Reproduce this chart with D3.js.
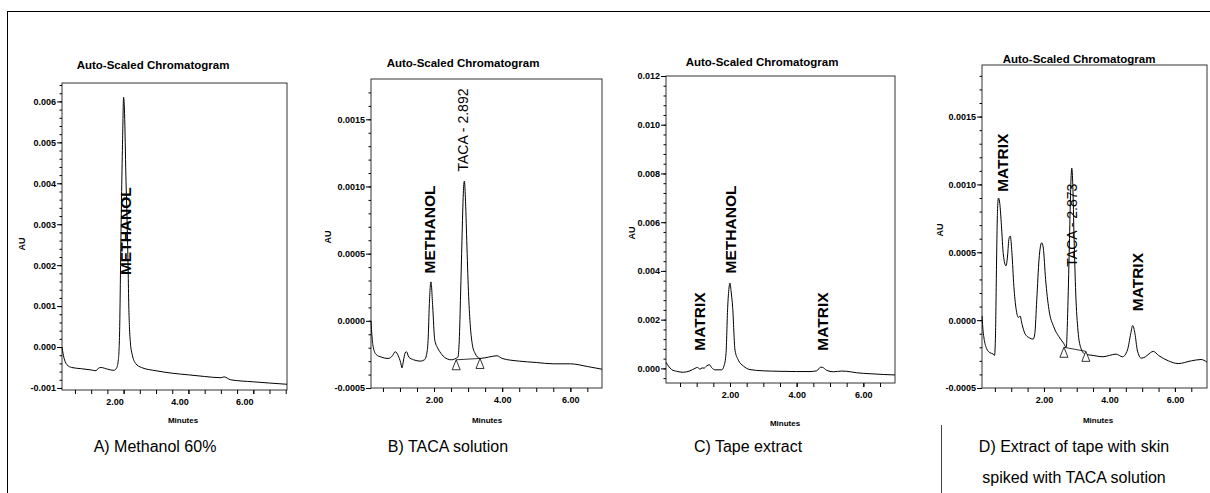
<!DOCTYPE html>
<html><head><meta charset="utf-8">
<script src="https://cdn.jsdelivr.net/npm/d3@7"></script>
<style>
body{margin:0;background:#fff}
svg{display:block}
text{font-family:"Liberation Sans",Arial,sans-serif;fill:#000}
</style>
</head><body>
<svg id="chart" width="1210" height="493"></svg>
<script>
// ---------------- DATA ----------------
const captions = ["A) Methanol 60%", "B) TACA solution", "C) Tape extract", "D) Extract of tape with skin|spiked with TACA solution"];
const chartTitle = "Auto-Scaled Chromatogram";
const xAxisTitle = "Minutes";
const yAxisTitle = "AU";
const xTicks = [2, 4, 6];

const yTicksA = [-0.001, 0, 0.001, 0.002, 0.003, 0.004, 0.005, 0.006];
const yTicksB = [-0.0005, 0, 0.0005, 0.0010, 0.0015];
const yTicksC = [0, 0.002, 0.004, 0.006, 0.008, 0.010, 0.012];
const yTicksD = [-0.0005, 0, 0.0005, 0.0010, 0.0015];

// [minutes, AU]
const traceA = [[0.10,0.0000],[0.13,-0.00015],[0.18,-0.00032],[0.25,-0.00043],[0.40,-0.0005],[0.70,-0.00053],[1.00,-0.00056],[1.15,-0.00058],[1.22,-0.00052],[1.30,-0.0005],[1.50,-0.00054],[1.70,-0.00057],[1.78,-0.00052],[1.84,-0.0003],[1.88,0.0005],[1.91,0.0022],[1.94,0.0038],[1.97,0.0051],[2.00,0.0061],[2.03,0.0057],[2.07,0.0042],[2.11,0.0030],[2.14,0.0019],[2.16,0.0010],[2.18,0.0005],[2.21,0.0001],[2.27,-0.0002],[2.37,-0.0004],[2.55,-0.0005],[3.0,-0.00058],[3.5,-0.00064],[4.0,-0.00068],[4.5,-0.00072],[5.0,-0.00075],[5.1,-0.00073],[5.3,-0.0008],[6.0,-0.00085],[6.5,-0.00088],[7.04,-0.00091]];

const traceB = [[0.15,0.0000],[0.18,-0.00012],[0.22,-0.0002],[0.30,-0.00025],[0.45,-0.00027],[0.65,-0.00028],[0.78,-0.00026],[0.86,-0.00023],[0.95,-0.00026],[1.02,-0.00031],[1.06,-0.00035],[1.10,-0.0003],[1.15,-0.00024],[1.19,-0.00023],[1.26,-0.00027],[1.40,-0.00029],[1.60,-0.0003],[1.72,-0.00029],[1.79,-0.00024],[1.83,-0.00012],[1.86,0.00011],[1.91,0.00029],[1.96,0.00011],[2.02,-0.00014],[2.10,-0.0002],[2.17,-0.00023],[2.30,-0.00027],[2.50,-0.00029],[2.70,-0.00027],[2.74,-0.00015],[2.78,0.0002],[2.82,0.0006],[2.86,0.00095],[2.89,0.00104],[2.92,0.00092],[2.96,0.0006],[3.01,0.00022],[3.06,-0.00002],[3.12,-0.00017],[3.20,-0.00024],[3.35,-0.00028],[3.60,-0.00027],[3.85,-0.00026],[4.0,-0.00028],[4.5,-0.0003],[5.0,-0.00031],[5.5,-0.00032],[6.0,-0.00032],[6.5,-0.00034],[6.93,-0.00036]];

const traceC = [[0.08,0.00025],[0.15,0.0001],[0.25,-0.00005],[0.40,-0.00012],[0.60,-0.00016],[0.80,-0.0001],[0.95,0.0],[1.02,0.00004],[1.10,-0.00003],[1.16,0.00002],[1.22,0.00001],[1.30,0.0001],[1.38,0.00015],[1.45,0.00003],[1.55,-0.00006],[1.75,-0.00006],[1.82,0.0001],[1.88,0.0006],[1.93,0.0025],[1.97,0.0033],[2.00,0.0035],[2.03,0.0032],[2.08,0.0025],[2.15,0.00075],[2.25,0.00034],[2.40,0.0001],[2.60,-0.00005],[3.0,-0.0001],[3.5,-0.00012],[4.0,-0.00013],[4.4,-0.00013],[4.6,-0.0001],[4.72,0.00005],[4.78,0.00004],[4.9,-0.00008],[5.1,-0.00014],[5.35,-0.00011],[5.5,-0.00012],[5.8,-0.00018],[6.2,-0.00022],[6.6,-0.00025],[6.95,-0.00027]];

const traceD = [[0.11,0.00003],[0.13,-0.00005],[0.18,-0.00015],[0.25,-0.00021],[0.35,-0.00024],[0.45,-0.00025],[0.49,-0.00026],[0.52,-0.0001],[0.55,0.0004],[0.58,0.0008],[0.61,0.0009],[0.65,0.00086],[0.70,0.0007],[0.76,0.00048],[0.84,0.0004],[0.89,0.00048],[0.93,0.0006],[0.97,0.00062],[1.02,0.0005],[1.08,0.00025],[1.15,0.00008],[1.22,0.00002],[1.27,0.00003],[1.33,-0.00003],[1.42,-0.0001],[1.55,-0.00013],[1.67,-0.00014],[1.72,-0.0001],[1.78,0.00015],[1.85,0.00045],[1.93,0.00057],[1.98,0.00053],[2.05,0.0003],[2.15,0.00008],[2.30,-0.00005],[2.45,-0.00012],[2.60,-0.00017],[2.68,-0.0002],[2.73,0.0001],[2.78,0.0006],[2.82,0.001],[2.85,0.00112],[2.88,0.001],[2.92,0.0006],[2.97,0.0002],[3.04,-0.00008],[3.12,-0.0002],[3.25,-0.00025],[3.5,-0.00026],[3.8,-0.00027],[4.0,-0.00026],[4.2,-0.00025],[4.4,-0.00027],[4.55,-0.00022],[4.65,-0.0001],[4.71,-0.00004],[4.78,-0.0001],[4.85,-0.00022],[4.97,-0.00028],[5.1,-0.00027],[5.25,-0.00024],[5.34,-0.00023],[5.5,-0.00026],[5.8,-0.0003],[6.1,-0.00032],[6.5,-0.0003],[6.8,-0.00029],[6.98,-0.00031]];

// integration markers [minutes, AU]
const marksB = [[2.65,-0.00029],[3.35,-0.00028]];
const marksD = [[2.61,-0.0002],[3.28,-0.00023]];

// peak annotations: text, minutes, AU (centre of label), weight
const labelsA = [["METHANOL",2.05,0.00283,"bold"]];
const labelsB = [["METHANOL",1.88,0.00068,"bold"],["TACA - 2.892",2.86,0.00142,"normal"]];
const labelsC = [["MATRIX",1.08,0.00192,"bold"],["METHANOL",2.0,0.0057,"bold"],["MATRIX",4.78,0.00192,"bold"]];
const labelsD = [["MATRIX",0.74,0.00116,"bold"],["TACA - 2.873",2.85,0.0007,"normal"],["MATRIX",4.85,0.00028,"bold"]];

// ---------------- LAYOUT ----------------
const layout = [
  {trace:traceA, yTicks:yTicksA, digits:3, minor:0.0002, marks:null, labels:labelsA,
   box:{l:62,r:287,t:83,b:390}, xd:[0.10,7.04], yd:[-0.00105,0.00645],
   title:[153,65], au:[22,244], minutes:[183,420], xlabDx:-9, caption:[155,446]},
  {trace:traceB, yTicks:yTicksB, digits:4, minor:0.0001, marks:marksB, labels:labelsB,
   box:{l:371,r:602,t:79,b:388}, xd:[0.15,6.93], yd:[-0.0005,0.0018],
   title:[463,63], au:[328,237], minutes:[487,420], xlabDx:0, caption:[448,446]},
  {trace:traceC, yTicks:yTicksC, digits:3, minor:0.0004, marks:null, labels:labelsC,
   box:{l:666,r:895,t:76,b:383}, xd:[0.08,6.95], yd:[-0.0006,0.012],
   title:[762,62], au:[632,233], minutes:[785,423], xlabDx:0, caption:[748,446]},
  {trace:traceD, yTicks:yTicksD, digits:4, minor:0.0001, marks:marksD, labels:labelsD,
   box:{l:982,r:1207,t:65,b:388}, xd:[0.107,6.98], yd:[-0.0005,0.00188],
   title:[1079,59], au:[940,230], minutes:[1098,420], xlabDx:0, caption:[1074,446]}
];

const svg = d3.select("#chart");

// outer frame
svg.append("line").attr("x1",7.5).attr("x2",7.5).attr("y1",11).attr("y2",493).attr("stroke","#000");
svg.append("line").attr("x1",7.5).attr("x2",1210).attr("y1",11.5).attr("y2",11.5).attr("stroke","#000");
svg.append("line").attr("x1",941.5).attr("x2",941.5).attr("y1",425).attr("y2",493).attr("stroke","#444");

layout.forEach((p, i) => {
  const g = svg.append("g");
  const x = d3.scaleLinear().domain(p.xd).range([p.box.l, p.box.r]);
  const y = d3.scaleLinear().domain(p.yd).range([p.box.b, p.box.t]);

  // frame
  g.append("rect").attr("x",p.box.l).attr("y",p.box.t)
    .attr("width",p.box.r-p.box.l).attr("height",p.box.b-p.box.t)
    .attr("fill","none").attr("stroke","#333").attr("stroke-width",1);

  // y axis
  const yAxis = d3.axisLeft(y).tickValues(p.yTicks).tickSize(5).tickPadding(1)
    .tickFormat(v => v.toFixed(p.digits));
  const ya = g.append("g").attr("transform",`translate(${p.box.l},0)`).call(yAxis);
  ya.select(".domain").remove();
  ya.selectAll("text").style("font-size","9px").style("font-weight","bold")
    .style("font-family",'"Liberation Sans",Arial,sans-serif');
  const minorY = d3.range(p.yd[0], p.yd[1]+1e-9, p.minor)
    .map(v => Math.round(v/p.minor)*p.minor)
    .filter(v => v >= p.yd[0] && v <= p.yd[1]);
  const ym = g.append("g").attr("transform",`translate(${p.box.l},0)`)
    .call(d3.axisLeft(y).tickValues(minorY).tickSize(2.5).tickFormat(""));
  ym.select(".domain").remove();

  // x axis
  const minorX = d3.range(0.5, p.xd[1], 0.5).filter(v => v > p.xd[0]);
  const xm = g.append("g").attr("transform",`translate(0,${p.box.b})`)
    .call(d3.axisBottom(x).tickValues(minorX).tickSize(4).tickFormat(""));
  xm.select(".domain").remove();
  const xa = g.append("g").attr("transform",`translate(0,${p.box.b})`)
    .call(d3.axisBottom(x).tickValues(xTicks).tickSize(4).tickPadding(5).tickFormat(v => v.toFixed(2)));
  xa.select(".domain").remove();
  xa.selectAll("text").attr("dx",p.xlabDx).style("font-size","9px").style("font-weight","bold")
    .style("font-family",'"Liberation Sans",Arial,sans-serif');

  // trace
  const line = d3.line().x(d => x(d[0])).y(d => y(d[1])).curve(d3.curveMonotoneX);
  g.append("path").datum(p.trace).attr("d",line).attr("fill","none")
    .attr("stroke","#000").attr("stroke-width",1);

  // integration marks
  if (p.marks) {
    g.append("line").attr("x1",x(p.marks[0][0])).attr("y1",y(p.marks[0][1]))
      .attr("x2",x(p.marks[1][0])).attr("y2",y(p.marks[1][1]))
      .attr("stroke","#000").attr("stroke-width",0.8);
    g.selectAll(".tri").data(p.marks).enter().append("path")
      .attr("d", d => { const cx=x(d[0]), cy=y(d[1]); return `M${cx},${cy}L${cx+4},${cy+10}L${cx-4},${cy+10}Z`; })
      .attr("fill","#fff").attr("stroke","#000").attr("stroke-width",0.8);
  }

  // peak labels
  p.labels.forEach(l => {
    g.append("text").attr("transform",`translate(${x(l[1])},${y(l[2])}) rotate(-90)`)
      .attr("text-anchor","middle").attr("dominant-baseline","central")
      .style("font-size", l[3]==="bold" ? "15.5px" : "14px").style("font-weight",l[3])
      .text(l[0]);
  });

  // titles
  svg.append("text").attr("x",p.title[0]).attr("y",p.title[1]).attr("text-anchor","middle")
    .attr("dominant-baseline","central").style("font-size","11.5px").style("font-weight","bold").text(chartTitle);
  svg.append("text").attr("transform",`translate(${p.au[0]},${p.au[1]}) rotate(-90)`).attr("text-anchor","middle")
    .attr("dominant-baseline","central").style("font-size","9px").style("font-weight","bold").text(yAxisTitle);
  svg.append("text").attr("x",p.minutes[0]).attr("y",p.minutes[1]).attr("text-anchor","middle")
    .attr("dominant-baseline","central").style("font-size","8px").style("font-weight","bold").text(xAxisTitle);

  // caption
  captions[i].split("|").forEach((c, k) => {
    svg.append("text").attr("x",p.caption[0]).attr("y",p.caption[1] + k*31).attr("text-anchor","middle")
      .attr("dominant-baseline","central").style("font-size","16px").text(c);
  });
});
</script>
</body></html>
